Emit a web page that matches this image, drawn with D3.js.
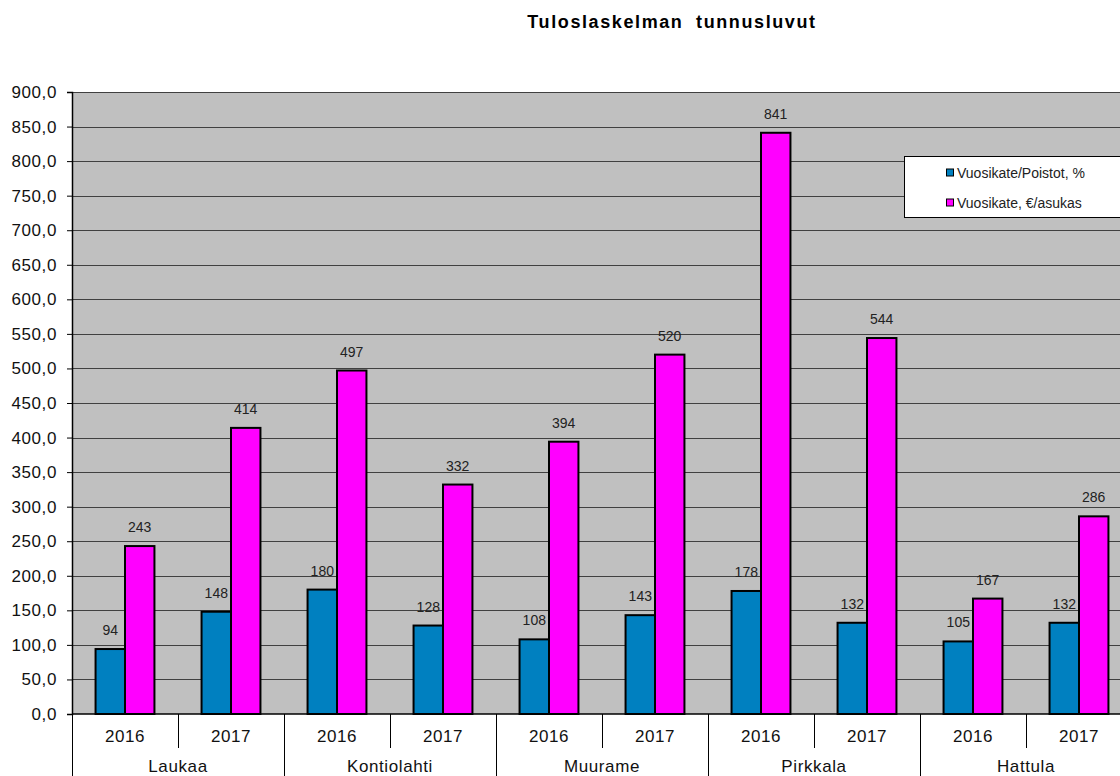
<!DOCTYPE html>
<html>
<head>
<meta charset="utf-8">
<script src="https://cdn.jsdelivr.net/npm/d3@7"></script>
<style>
  body { margin: 0; background: #fff; overflow: hidden; }
  svg { display: block; }
</style>
</head>
<body>
<script>
let w = 1120;
let h = 776;

let municipalities = ['Laukaa', 'Kontiolahti', 'Muurame', 'Pirkkala', 'Hattula'];
let years = ['2016', '2017'];
let seriesNames = ['Vuosikate/Poistot, %', 'Vuosikate, €/asukas'];
let poistot = [94, 148, 180, 128, 108, 143, 178, 132, 105, 132];
let asukas = [243, 414, 497, 332, 394, 520, 841, 544, 167, 286];
let yTicks = d3.range(0, 901, 50);
let colors = ['#0080c0', '#ff00ff'];

let plotLeft = 72, plotRight = 1132, plotTop = 92, plotBottom = 714;

// one row per municipality/year band
let rows = [];
municipalities.forEach((m, i) => {
  years.forEach((y, j) => {
    let k = i * 2 + j;
    rows.push({ key: m + '|' + y, muni: m, year: y, values: [poistot[k], asukas[k]] });
  });
});

let xScale = d3.scaleBand()
  .domain(rows.map((d) => d.key))
  .range([plotLeft, plotRight]);
let xInner = d3.scaleBand()
  .domain([0, 1])
  .range([0, xScale.bandwidth()])
  .paddingOuter(0.8)
  .paddingInner(0);
let yScale = d3.scaleLinear()
  .domain([0, 900])
  .range([plotBottom, plotTop]);

let svg = d3.select('body')
  .append('svg')
  .attr('width', w)
  .attr('height', h)
  .attr('font-family', 'Liberation Sans, Arial, sans-serif');

// plot background
svg.append('rect')
  .attr('x', plotLeft)
  .attr('y', plotTop)
  .attr('width', plotRight - plotLeft)
  .attr('height', plotBottom - plotTop)
  .attr('fill', '#c0c0c0');

// gridlines
svg.append('g')
  .selectAll('line')
  .data(yTicks.filter((t) => t > 0))
  .enter()
  .append('line')
  .attr('x1', plotLeft)
  .attr('x2', plotRight)
  .attr('y1', (d) => Math.round(yScale(d)) + 0.5)
  .attr('y2', (d) => Math.round(yScale(d)) + 0.5)
  .attr('stroke', '#404040')
  .attr('stroke-width', 1);

// y axis
let yAxis = d3.axisLeft(yScale)
  .tickValues(yTicks)
  .tickSize(5)
  .tickFormat((d) => d3.format('.1f')(d).replace('.', ','));
let yg = svg.append('g')
  .attr('transform', `translate(${plotLeft},0)`)
  .call(yAxis);
yg.select('.domain').attr('stroke', '#000').attr('stroke-width', 1.5);
yg.selectAll('.tick line').attr('stroke', '#000');
yg.selectAll('.tick text')
  .attr('font-size', '17px')
  .attr('letter-spacing', '0.6px')
  .attr('fill', '#111')
  .attr('x', -15);

// bars
let groups = svg.append('g')
  .selectAll('g')
  .data(rows)
  .enter()
  .append('g')
  .attr('transform', (d) => `translate(${xScale(d.key)},0)`);

groups.selectAll('rect')
  .data((d) => d.values.map((v, i) => ({ v: v, i: i })))
  .enter()
  .append('rect')
  .attr('x', (d) => xInner(d.i))
  .attr('y', (d) => yScale(d.v))
  .attr('width', xInner.bandwidth())
  .attr('height', (d) => plotBottom - yScale(d.v))
  .attr('fill', (d) => colors[d.i])
  .attr('stroke', '#000')
  .attr('stroke-width', 2);

groups.selectAll('text')
  .data((d) => d.values.map((v, i) => ({ v: v, i: i })))
  .enter()
  .append('text')
  .text((d) => d.v)
  .attr('x', (d) => xInner(d.i) + xInner.bandwidth() / 2)
  .attr('y', (d) => yScale(d.v) - 14)
  .attr('text-anchor', 'middle')
  .attr('font-size', '14px')
  .attr('fill', '#222');

// category axis (two levels)
let axisG = svg.append('g');
axisG.append('line')
  .attr('x1', plotLeft)
  .attr('x2', plotRight)
  .attr('y1', plotBottom)
  .attr('y2', plotBottom)
  .attr('stroke', '#000')
  .attr('stroke-width', 1.5);

axisG.selectAll('line.sep')
  .data(rows)
  .enter()
  .append('line')
  .attr('class', 'sep')
  .attr('x1', (d) => Math.round(xScale(d.key)) + 0.5)
  .attr('x2', (d) => Math.round(xScale(d.key)) + 0.5)
  .attr('y1', plotBottom)
  .attr('y2', (d) => d.year === years[0] ? h : 748)
  .attr('stroke', '#000');

axisG.selectAll('text.year')
  .data(rows)
  .enter()
  .append('text')
  .attr('class', 'year')
  .text((d) => d.year)
  .attr('x', (d) => xScale(d.key) + xScale.bandwidth() / 2)
  .attr('y', 742)
  .attr('text-anchor', 'middle')
  .attr('font-size', '17px')
  .attr('letter-spacing', '0.6px')
  .attr('fill', '#111');

axisG.selectAll('text.muni')
  .data(municipalities)
  .enter()
  .append('text')
  .attr('class', 'muni')
  .text((d) => d)
  .attr('x', (d) => xScale(d + '|' + years[0]) + xScale.bandwidth())
  .attr('y', 772)
  .attr('text-anchor', 'middle')
  .attr('font-size', '17px')
  .attr('letter-spacing', '0.6px')
  .attr('fill', '#111');

// title
svg.append('text')
  .text('Tuloslaskelman tunnusluvut')
  .attr('x', 672)
  .attr('y', 28)
  .attr('text-anchor', 'middle')
  .attr('font-size', '18px')
  .attr('font-weight', 'bold')
  .attr('letter-spacing', '1.6px')
  .attr('word-spacing', '6px')
  .attr('fill', '#000');

// legend
let legend = svg.append('g').attr('transform', 'translate(904,156)');
legend.append('rect')
  .attr('x', 0.5)
  .attr('y', 0.5)
  .attr('width', 240)
  .attr('height', 61)
  .attr('fill', '#fff')
  .attr('stroke', '#000');
let items = legend.selectAll('g')
  .data(seriesNames)
  .enter()
  .append('g')
  .attr('transform', (d, i) => `translate(42,${16.5 + i * 30})`);
items.append('rect')
  .attr('x', 0.5)
  .attr('y', -3.5)
  .attr('width', 7)
  .attr('height', 7)
  .attr('fill', (d, i) => colors[i])
  .attr('stroke', '#000');
items.append('text')
  .text((d) => d)
  .attr('x', 11)
  .attr('y', 5)
  .attr('font-size', '14px')
  .attr('fill', '#222');
</script>
</body>
</html>
